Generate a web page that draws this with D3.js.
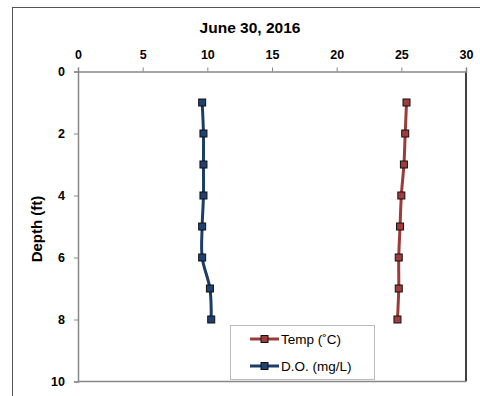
<!DOCTYPE html>
<html><head><meta charset="utf-8">
<script src="https://cdn.jsdelivr.net/npm/d3@7"></script>
<style>body{margin:0;background:#fff}svg{display:block}</style>
</head><body>
<script>
const depths = [1, 2, 3, 4, 5, 6, 7, 8];
const tempValues = [25.4, 25.3, 25.2, 25.0, 24.9, 24.8, 24.8, 24.7];
const doValues = [9.6, 9.7, 9.7, 9.7, 9.6, 9.6, 10.2, 10.3];
const xTicks = [0, 5, 10, 15, 20, 25, 30];
const yTicks = [0, 2, 4, 6, 8, 10];
const seriesNames = ["Temp (˚C)", "D.O. (mg/L)"];
const title = "June 30, 2016";
const yTitle = "Depth (ft)";

const W = 480, H = 396;
const svg = d3.select("body").append("svg").attr("width", W).attr("height", H);
const font = "Arial, 'Liberation Sans', sans-serif";

svg.append("rect").attr("x", 12.5).attr("y", 7.5).attr("width", 500).attr("height", 500)
  .attr("fill", "none").attr("stroke", "#555").attr("stroke-width", 1);

const L = 78, R = 466, T = 71.5, B = 381.5;
const x = d3.scaleLinear().domain([0, 30]).range([L, R]);
const y = d3.scaleLinear().domain([0, 10]).range([T, B]);

svg.append("line").attr("x1", R).attr("x2", R).attr("y1", T).attr("y2", B).attr("stroke", "#000").attr("stroke-width", 1.5);
svg.append("line").attr("x1", L).attr("x2", R).attr("y1", B).attr("y2", B).attr("stroke", "#888").attr("stroke-width", 1.5);

const xAxis = svg.append("g").attr("transform", `translate(0,${T})`)
  .call(d3.axisTop(x).tickValues(xTicks).tickSize(4).tickPadding(9).tickFormat(d3.format("d")));
const yAxis = svg.append("g").attr("transform", `translate(${L},0)`)
  .call(d3.axisLeft(y).tickValues(yTicks).tickSize(4).tickPadding(9).tickFormat(d3.format("d")));
[xAxis, yAxis].forEach(g => {
  g.select(".domain").attr("stroke", "#888").attr("stroke-width", 1.5);
  g.selectAll(".tick line").attr("stroke", "#888").attr("stroke-width", 1);
  g.selectAll("text").attr("fill", "#000").style("font-family", font).style("font-size", "12.5px").style("font-weight", "bold");
});

svg.append("text").attr("x", 250).attr("y", 32.5).attr("text-anchor", "middle")
  .style("font-family", font).style("font-size", "15.5px").style("font-weight", "bold").text(title);
svg.append("text").attr("transform", "translate(41.5,229) rotate(-90)").attr("text-anchor", "middle")
  .style("font-family", font).style("font-size", "15px").style("font-weight", "bold").text(yTitle);

const colors = ["#9b3b3a", "#1c3d68"];
const fills = ["#a03c3c", "#1f4273"];
const series = [tempValues, doValues];
const line = d3.line().x(d => x(d.v)).y(d => y(d.d)).curve(d3.curveCatmullRom.alpha(0.5));

series.forEach((vals, i) => {
  const data = vals.map((v, k) => ({v, d: depths[k]}));
  svg.append("path").datum(data).attr("d", line).attr("fill", "none")
    .attr("stroke", colors[i]).attr("stroke-width", 3);
  svg.selectAll(null).data(data).enter().append("rect")
    .attr("x", d => x(d.v) - 3.5).attr("y", d => y(d.d) - 3.5).attr("width", 7).attr("height", 7)
    .attr("fill", fills[i]).attr("stroke", "#111").attr("stroke-width", 1);
});

const lg = svg.append("g");
lg.append("rect").attr("x", 230.5).attr("y", 325.5).attr("width", 144).attr("height", 54)
  .attr("fill", "#fff").attr("stroke", "#bbb").attr("stroke-width", 1);
seriesNames.forEach((name, i) => {
  const cy = 339 + i * 27;
  lg.append("line").attr("x1", 250).attr("x2", 279).attr("y1", cy).attr("y2", cy)
    .attr("stroke", colors[i]).attr("stroke-width", 3);
  lg.append("rect").attr("x", 261).attr("y", cy - 3.5).attr("width", 7).attr("height", 7)
    .attr("fill", fills[i]).attr("stroke", "#111").attr("stroke-width", 1);
  lg.append("text").attr("x", 281).attr("y", cy + 5)
    .style("font-family", font).style("font-size", "13.5px").text(name);
});
</script>
</body></html>
